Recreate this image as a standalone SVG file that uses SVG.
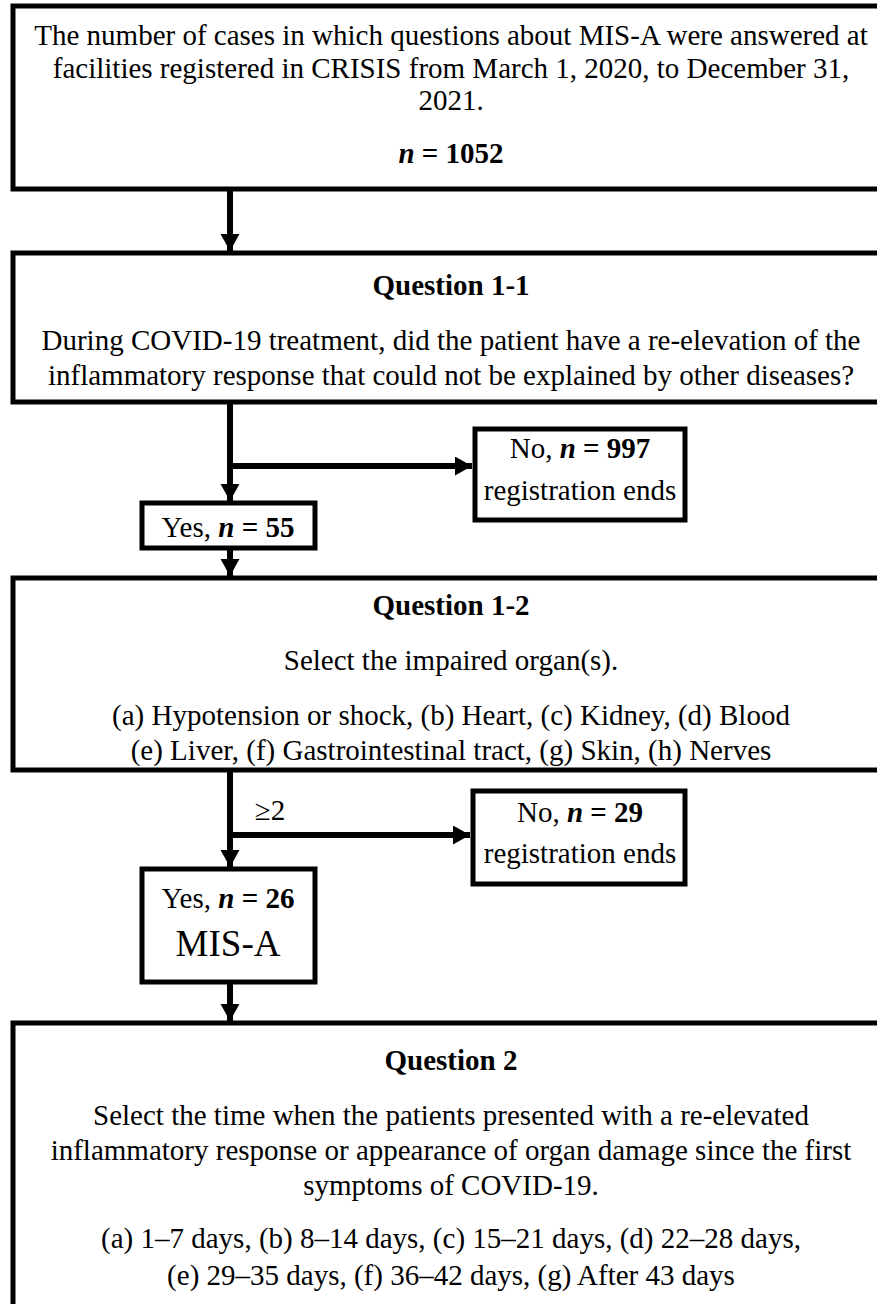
<svg xmlns="http://www.w3.org/2000/svg" width="877" height="1304" viewBox="0 0 877 1304">
<style>
.box{fill:#fff;stroke:#000;stroke-width:5}
.t{font-family:"Liberation Serif","Times New Roman",serif;font-size:29px;fill:#000;text-anchor:middle}
.b{font-weight:bold}
.bi{font-weight:bold;font-style:italic}
.c{stroke:#000;stroke-width:6;fill:none}
</style>
<defs>
<marker id="ah" markerWidth="18" markerHeight="20" refX="17" refY="9.5" orient="auto" markerUnits="userSpaceOnUse">
<path d="M0,0 L17,9.5 L0,19 Z" fill="#000"/>
</marker>
</defs>
<rect width="877" height="1304" fill="#fff"/>
<g id="connectors">
<line class="c" x1="230" y1="188" x2="230" y2="251" marker-end="url(#ah)"/>
<line class="c" x1="230" y1="402" x2="230" y2="501" marker-end="url(#ah)"/>
<line class="c" x1="230" y1="466" x2="472" y2="466" marker-end="url(#ah)"/>
<line class="c" x1="230" y1="548" x2="230" y2="576" marker-end="url(#ah)"/>
<line class="c" x1="230" y1="770" x2="230" y2="867" marker-end="url(#ah)"/>
<line class="c" x1="230" y1="835" x2="470" y2="835" marker-end="url(#ah)"/>
<line class="c" x1="230" y1="982" x2="230" y2="1021" marker-end="url(#ah)"/>
</g>
<g id="start">
<rect class="box" x="13" y="6" width="880" height="183"/>
<text class="t" x="451" y="45">The number of cases in which questions about MIS-A were answered at</text>
<text class="t" x="451" y="78">facilities registered in CRISIS from March 1, 2020, to December 31,</text>
<text class="t" x="451" y="110">2021.</text>
<text class="t" x="451" y="163"><tspan class="bi">n</tspan><tspan class="b"> = 1052</tspan></text>
</g>
<g id="q11">
<rect class="box" x="13" y="253" width="880" height="149"/>
<text class="t b" x="451" y="295">Question 1-1</text>
<text class="t" x="451" y="350">During COVID-19 treatment, did the patient have a re-elevation of the</text>
<text class="t" x="451" y="385">inflammatory response that could not be explained by other diseases?</text>
</g>
<g id="no1">
<rect class="box" x="475" y="429" width="210" height="91"/>
<text class="t" x="580" y="458">No, <tspan class="bi">n</tspan><tspan class="b"> = 997</tspan></text>
<text class="t" x="580" y="500">registration ends</text>
</g>
<g id="yes1">
<rect class="box" x="142" y="503" width="173" height="45"/>
<text class="t" x="228" y="537">Yes, <tspan class="bi">n</tspan><tspan class="b"> = 55</tspan></text>
</g>
<g id="q12">
<rect class="box" x="13" y="578" width="880" height="192"/>
<text class="t b" x="451" y="615">Question 1-2</text>
<text class="t" x="451" y="670">Select the impaired organ(s).</text>
<text class="t" x="451" y="725">(a) Hypotension or shock, (b) Heart, (c) Kidney, (d) Blood</text>
<text class="t" x="451" y="760">(e) Liver, (f) Gastrointestinal tract, (g) Skin, (h) Nerves</text>
<text class="t" x="270" y="820">≥2</text>
</g>
<g id="no2">
<rect class="box" x="473" y="791" width="212" height="93"/>
<text class="t" x="580" y="822">No, <tspan class="bi">n</tspan><tspan class="b"> = 29</tspan></text>
<text class="t" x="580" y="863">registration ends</text>
</g>
<g id="yes2">
<rect class="box" x="142" y="869" width="173" height="113"/>
<text class="t" x="228" y="908">Yes, <tspan class="bi">n</tspan><tspan class="b"> = 26</tspan></text>
<text class="t" x="228" y="956" style="font-size:37px">MIS-A</text>
</g>
<g id="q2">
<rect class="box" x="13" y="1023" width="880" height="300"/>
<text class="t b" x="451" y="1070">Question 2</text>
<text class="t" x="451" y="1125">Select the time when the patients presented with a re-elevated</text>
<text class="t" x="451" y="1160">inflammatory response or appearance of organ damage since the first</text>
<text class="t" x="451" y="1195">symptoms of COVID-19.</text>
<text class="t" x="451" y="1248">(a) 1–7 days, (b) 8–14 days, (c) 15–21 days, (d) 22–28 days,</text>
<text class="t" x="451" y="1285">(e) 29–35 days, (f) 36–42 days, (g) After 43 days</text>
</g>
</svg>
